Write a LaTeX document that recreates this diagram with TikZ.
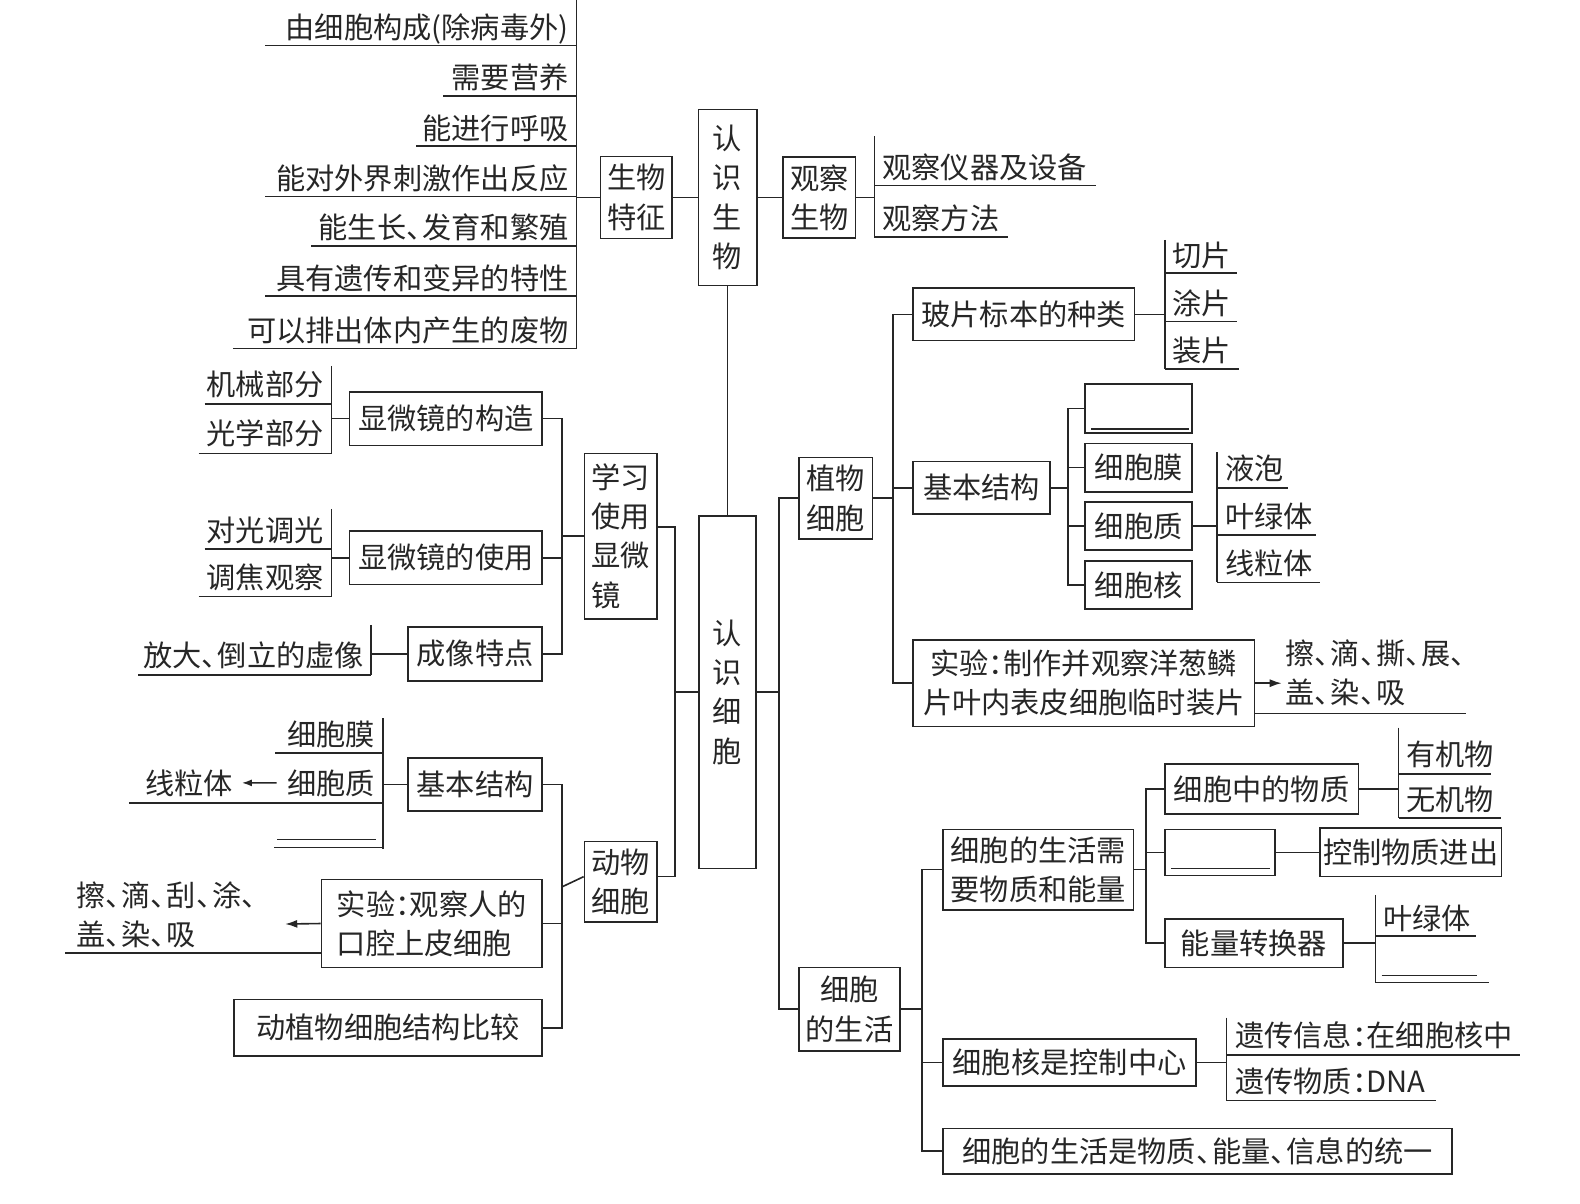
\documentclass[tikz,border=0pt]{standalone}
\usepackage{fontspec}
\usepackage{xcolor}
\usepackage{tikz}
\usetikzlibrary{arrows.meta}
\newfontfamily\cjk{Noto Sans CJK SC}
\newcommand\hdun{\makebox[0.55em][l]{、}}
\newcommand\hcol{\makebox[0.5em][l]{：}}
\definecolor{ink}{RGB}{38,38,38}

\begin{document}
\begin{tikzpicture}[x=0.5pt,y=0.5pt,yscale=-1,color=ink,line width=0.8pt,
	every node/.append style={font=\cjk\fontsize{14.5}{19.5}\selectfont},
	box/.style={draw,inner sep=0pt,align=center},
	leaf/.style={inner sep=0pt,anchor=base east},
	leafr/.style={inner sep=0pt,anchor=base west},
	tip/.style={-{Latex[length=6pt,width=4pt]}}]
	\useasboundingbox (0,0) rectangle (1568,1194);
	
	% 认识生物
	\node[box,minimum width=29pt,minimum height=87.5pt] (rssw) at (722,196) {认\\识\\生\\物};
	\node[box,minimum width=35.5pt,minimum height=40.5pt] (swtz) at (631.5,196) {生物\\特征};
	\node[box,minimum width=36pt,minimum height=40pt] (gcsw) at (813,196) {观察\\生物};
	\draw (swtz) -- (rssw);
	\draw (rssw) -- (gcsw);
	
	% 生物特征
	\coordinate (tz) at (572,0);
	\draw (swtz.west) -- (swtz.west -| tz);
	\draw (tz) -- ++(0,346);
	\node[leaf] (tz1) at (565,38) {由细胞构成(除病毒外)};
	\draw (263,45) -- (572,45);
	\node[leaf] (tz2) at (565,88) {需要营养};
	\draw (440,95) -- (572,95);
	\node[leaf] (tz3) at (565,138) {能进行呼吸};
	\draw (413,145) -- (572,145);
	\node[leaf] (tz4) at (565,188) {能对外界刺激作出反应};
	\draw (263,195) -- (572,195);
	\node[leaf] (tz5) at (565,237) {能生长\hdun 发育和繁殖};
	\draw (309,244) -- (572,244);
	\node[leaf] (tz6) at (565,287) {具有遗传和变异的特性};
	\draw (263,294) -- (572,294);
	\node[leaf] (tz7) at (565,339) {可以排出体内产生的废物};
	\draw (231,346) -- (572,346);
	
	% 观察生物
	\coordinate (gc) at (868,135);
	\draw (gcsw.east) -- (gcsw.east -| gc);
	\draw (gc) -- ++(0,101);
	\node[leafr] (gc1) at (875,177) {观察仪器及设备};
	\draw (868,184) -- (1088,184);
	\node[leafr] (gc2) at (875,228) {观察方法};
	\draw (868,235) -- (1000,235);
	
	% 认识细胞
	\node[box,minimum width=28.5pt,minimum height=175pt] (rsxb) at (722,687) {认\\识\\细\\胞};
	\draw (rssw) -- (rsxb);
	
	%% right side
	\node[box,minimum width=36.5pt,minimum height=40.5pt] (zwxb) at (829.5,494.5) {植物\\细胞};
	\node[box,minimum width=50pt,minimum height=41.5pt] (xbsh) at (843,1001.5) {细胞\\的生活};
	\coordinate (r1) at (773,687);
	\draw (rsxb.east) -- (r1);
	\draw (zwxb.west) -- (zwxb.west -| r1) -- (xbsh.west -| r1) -- (xbsh.west);
	
	% 植物细胞
	\node[box,minimum width=110pt,minimum height=26pt] (bpzl) at (1016,312) {玻片标本的种类};
	\node[box,minimum width=68pt,minimum height=26pt] (zjg) at (974,484) {基本结构};
	\node[box,minimum width=169.5pt,minimum height=43pt] (zsy) at (1075.5,678) {实验\hcol 制作并观察洋葱鳞\\片叶内表皮细胞临时装片};
	\coordinate (r2) at (886,494.5);
	\draw (zwxb.east) -- (r2);
	\draw (bpzl.west) -- (bpzl.west -| r2) -- (zsy.west -| r2) -- (zsy.west);
	\draw (zjg.west) -- (zjg.west -| r2);
	
	% 玻片标本的种类
	\coordinate (r3) at (1156,238);
	\draw (bpzl.east) -- (bpzl.east -| r3);
	\draw (r3) -- ++(0,128);
	\node[leafr] (bp1) at (1163,264) {切片};
	\draw (1156,271) -- (1228,271);
	\node[leafr] (bp2) at (1163,312) {涂片};
	\draw (1156,319) -- (1228,319);
	\node[leafr] (bp3) at (1163,359) {装片};
	\draw (1156,366) -- (1230,366);
	
	% 基本结构 (plant)
	\node[box,minimum width=53pt,minimum height=24.5pt] (zk) at (1130,405.5) {};
	\draw (1083,426) -- (1180,426);
	\node[box,minimum width=53pt,minimum height=24pt] (zm) at (1130,464) {细胞膜};
	\node[box,minimum width=53pt,minimum height=24pt] (zz) at (1130,522) {细胞质};
	\node[box,minimum width=53pt,minimum height=24pt] (zh) at (1130,580.5) {细胞核};
	\coordinate (r4) at (1060,484);
	\draw (zjg.east) -- (r4);
	\draw (zk.west) -- (zk.west -| r4) -- (zh.west -| r4) -- (zh.west);
	\draw (zm.west) -- (zm.west -| r4);
	\draw (zz.west) -- (zz.west -| r4);
	
	% 细胞质
	\coordinate (r5) at (1208,449);
	\draw (zz.east) -- (zz.east -| r5);
	\draw (r5) -- ++(0,129);
	\node[leafr] (zz1) at (1215,476) {液泡};
	\draw (1208,484) -- (1278,484);
	\node[leafr] (zz2) at (1215,523) {叶绿体};
	\draw (1208,531) -- (1306,531);
	\node[leafr] (zz3) at (1215,570) {线粒体};
	\draw (1208,578) -- (1310,578);
	
	% 实验 (plant)
	\node[inner sep=0pt,anchor=north west,align=left] (zsy1) at (1275,634) {擦\hdun 滴\hdun 撕\hdun 展\hdun\\盖\hdun 染\hdun 吸};
	\coordinate (za) at (1272,678);
	\draw[tip] (zsy.east) -- (za);
	\draw (1245,708) -- (1455,708);
	
	% 细胞的生活
	\node[box,minimum width=94.5pt,minimum height=40pt] (sxy) at (1030.5,863) {细胞的生活需\\要物质和能量};
	\node[box,minimum width=125.5pt,minimum height=23.5pt] (kzzx) at (1061.5,1054.5) {细胞核是控制中心};
	\node[box,minimum width=252.5pt,minimum height=22.5pt] (tyy) at (1188.5,1142.5) {细胞的生活是物质\hdun 能量\hdun 信息的统一};
	\coordinate (r6) at (915,1001.5);
	\draw (xbsh.east) -- (r6);
	\draw (sxy.west) -- (sxy.west -| r6) -- (tyy.west -| r6) -- (tyy.west);
	\draw (kzzx.west) -- (kzzx.west -| r6);
	
	% 需要物质和能量
	\node[box,minimum width=96pt,minimum height=25pt] (wz) at (1252,783) {细胞中的物质};
	\node[box,minimum width=54.5pt,minimum height=23pt] (mk) at (1210.5,846) {};
	\draw (1162,862) -- (1260,862);
	\node[box,minimum width=90pt,minimum height=24pt] (kzwz) at (1400,846) {控制物质进出};
	\node[box,minimum width=88.5pt,minimum height=24pt] (nlzh) at (1244.5,936) {能量转换器};
	\coordinate (r7) at (1137,863);
	\draw (sxy.east) -- (r7);
	\draw (wz.west) -- (wz.west -| r7) -- (nlzh.west -| r7) -- (nlzh.west);
	\draw (mk.west) -- (mk.west -| r7);
	\draw (mk) -- (kzwz);
	
	% 细胞中的物质
	\coordinate (r8) at (1388,722);
	\draw (wz.east) -- (wz.east -| r8);
	\draw (r8) -- ++(0,90);
	\node[leafr] (wz1) at (1395,760) {有机物};
	\draw (1388,768) -- (1480,768);
	\node[leafr] (wz2) at (1395,804) {无机物};
	\draw (1388,812) -- (1490,812);
	
	% 能量转换器
	\coordinate (r9) at (1365,888);
	\draw (nlzh.east) -- (nlzh.east -| r9);
	\draw (r9) -- ++(0,87);
	\node[leafr] (nl1) at (1372,922) {叶绿体};
	\draw (1365,929) -- (1465,929);
	\draw (1371,968) -- (1466,968);
	\draw (1365,975) -- (1478,975);
	
	% 细胞核是控制中心
	\coordinate (r10) at (1217,1010);
	\draw (kzzx.east) -- (kzzx.east -| r10);
	\draw (r10) -- ++(0,82);
	\node[leafr] (kz1) at (1225,1039) {遗传信息\hcol 在细胞核中};
	\draw (1217,1047) -- (1508,1047);
	\node[leafr] (kz2) at (1225,1084) {遗传物质\hcol DNA};
	\draw (1217,1092) -- (1425,1092);
	
	%% left side
	\node[box,align=left,minimum width=36pt,minimum height=82pt] (xxsy) at (616,532) {学习\\使用\\显微\\镜};
	\node[box,minimum width=36pt,minimum height=40pt] (dwxb) at (616,875) {动物\\细胞};
	\coordinate (l1) at (670,687);
	\draw (rsxb.west) -- (l1);
	\draw ([yshift=-4.5pt]xxsy.east) -- ([yshift=-4.5pt]xxsy.east -| l1) -- ([yshift=-2.5pt]dwxb.east -| l1) -- ([yshift=-2.5pt]dwxb.east);
	
	% 学习使用显微镜
	\node[box,minimum width=95.5pt,minimum height=26.5pt] (gz) at (442.5,415.5) {显微镜的构造};
	\node[box,minimum width=95.5pt,minimum height=26.5pt] (sy) at (442.5,553.5) {显微镜的使用};
	\node[box,minimum width=66.5pt,minimum height=27pt] (cx) at (471.5,649) {成像特点};
	\coordinate (l2) at (558,532);
	\draw (xxsy.west) -- (l2);
	\draw (gz.east) -- (gz.east -| l2) -- (cx.east -| l2) -- (cx.east);
	\draw (sy.east) -- (sy.east -| l2);
	
	% 显微镜的构造
	\coordinate (l3) at (329,363);
	\draw (gz.west) -- (gz.west -| l3);
	\draw (l3) -- ++(0,87);
	\node[leaf] (gz1) at (322,392) {机械部分};
	\draw (203,401) -- (329,401);
	\node[leaf] (gz2) at (322,441) {光学部分};
	\draw (197,450) -- (329,450);
	
	% 显微镜的使用
	\coordinate (l4) at (329,505);
	\draw (sy.west) -- (sy.west -| l4);
	\draw (l4) -- ++(0,87);
	\node[leaf] (sy1) at (322,537) {对光调光};
	\draw (203,545) -- (329,545);
	\node[leaf] (sy2) at (322,584) {调焦观察};
	\draw (197,592) -- (329,592);
	
	% 成像特点
	\coordinate (l5) at (368,620);
	\draw (cx.west) -- (cx.west -| l5);
	\draw (l5) -- ++(0,50);
	\node[leaf] (cx1) at (362,661) {放大\hdun 倒立的虚像};
	\draw (137,670) -- (368,670);
	
	% 动物细胞
	\node[box,minimum width=66.5pt,minimum height=26.5pt] (djg) at (471.5,778.5) {基本结构};
	\node[box,align=left,minimum width=109.5pt,minimum height=43.5pt] (ksy) at (428.5,916.5) {实验\hcol 观察人的\\口腔上皮细胞};
	\node[box,minimum width=153pt,minimum height=28pt] (bj) at (385,1020) {动植物细胞结构比较};
	\coordinate (l6) at (558,880);
	\draw ([yshift=-2.5pt]dwxb.west) -- (l6);
	\draw (djg.east) -- (djg.east -| l6) -- (bj.east -| l6) -- (bj.east);
	\draw (ksy.east) -- (ksy.east -| l6);
	
	% 基本结构 (animal)
	\coordinate (l7) at (380,713);
	\draw (djg.west) -- (djg.west -| l7);
	\draw (l7) -- ++(0,130);
	\node[leaf] (dj1) at (373,740) {细胞膜};
	\draw (273,747) -- (380,747);
	\node[leaf] (dj2) at (373,788) {细胞质};
	\node[leaf] (dj3) at (232,788) {线粒体};
	\draw[-{Latex[length=5pt,width=3.5pt]}] ([xshift=-5pt]dj2.west) -- ([xshift=4pt]dj3.east);
	\draw (128,797) -- (380,797);
	\draw (275,833) -- (373,833);
	\draw (272,841) -- (380,841);
	
	% 实验 (animal)
	\node[inner sep=0pt,anchor=north west,align=left] (ks1) at (75,874) {擦\hdun 滴\hdun 刮\hdun 涂\hdun\\盖\hdun 染\hdun 吸};
	\coordinate (ka) at (283,917);
	\draw[tip] (ksy.west) -- (ka);
	\draw (65,946) -- (ksy.west |- 0,946);
	
\end{tikzpicture}
\end{document}
